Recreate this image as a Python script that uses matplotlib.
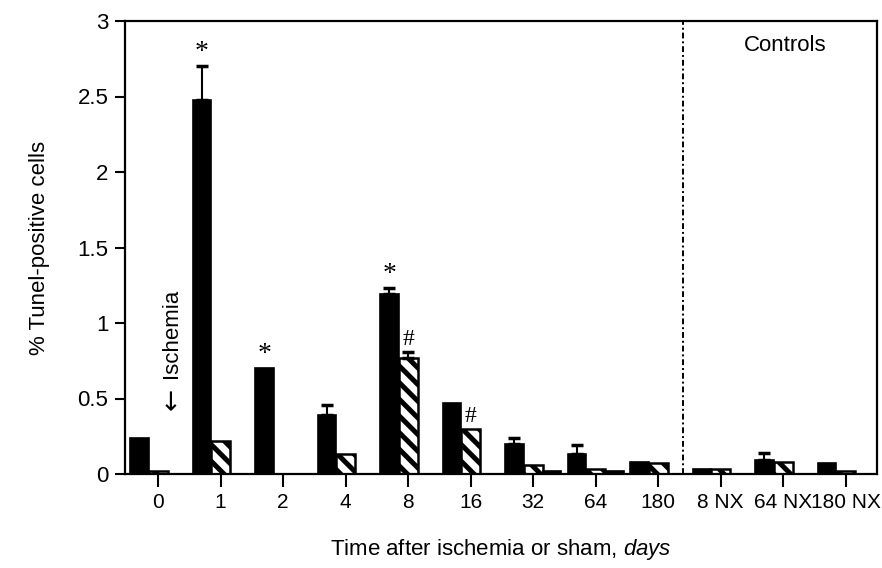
import matplotlib
matplotlib.use("Agg")
import matplotlib.pyplot as plt
import numpy as np

plt.rcParams['font.family'] = ['Liberation Sans', 'DejaVu Sans']
plt.rcParams['mathtext.fontset'] = 'custom'
plt.rcParams['mathtext.it'] = 'Liberation Sans:italic'
plt.rcParams['mathtext.rm'] = 'Liberation Sans'
plt.rcParams['hatch.linewidth'] = 3.6

# groups along the x axis
groups = ['0', '1', '2', '4', '8', '16', '32', '64', '180', '8 NX', '64 NX', '180 NX']

# black bars (ischemic side) and upper error
black_vals = [0.24, 2.48, 0.70, 0.39, 1.19, 0.47, 0.20, 0.13, 0.08, 0.03, 0.09, 0.07]
black_err = [0, 0.22, 0, 0.07, 0.04, 0, 0.04, 0.06, 0, 0, 0.05, 0]

# hatched bars and upper error
hatch_vals = [0.02, 0.22, 0.0, 0.13, 0.77, 0.30, 0.06, 0.03, 0.07, 0.03, 0.08, 0.02]
hatch_err = [0, 0, 0, 0, 0.04, 0, 0, 0, 0, 0, 0, 0]

# small third bars seen in some groups
third_vals = [0, 0, 0, 0, 0, 0, 0.02, 0.02, 0, 0, 0, 0]

# significance marks: (group index, series, symbol)
marks = [(1, 'black', '*'), (2, 'black', '*'), (4, 'black', '*'),
         (4, 'hatch', '#'), (5, 'hatch', '#')]

fig = plt.figure(figsize=(8.82, 5.68), dpi=100)
ax = fig.add_axes([125 / 882, 1 - 474 / 568, (877 - 125) / 882, (474 - 21) / 568])

x = np.arange(len(groups))
w = 0.3

ax.bar(x - w, black_vals, w, color='black', edgecolor='black', linewidth=1.2, zorder=2)
ax.bar(x, hatch_vals, w, color='white', edgecolor='black', hatch='\\\\', linewidth=1.8, zorder=2)
ax.bar(x + w, third_vals, w, color='black', edgecolor='black', linewidth=1.2, zorder=2)

for xi, v, e in zip(x - w, black_vals, black_err):
    if e > 0:
        ax.errorbar(xi, v, yerr=[[0], [e]], fmt='none', ecolor='black',
                    elinewidth=1.5, capsize=4.5, capthick=2.5, zorder=3)
for xi, v, e in zip(x, hatch_vals, hatch_err):
    if e > 0:
        ax.errorbar(xi, v, yerr=[[0], [e]], fmt='none', ecolor='black',
                    elinewidth=1.5, capsize=4.5, capthick=2.5, zorder=3)

for gi, series, sym in marks:
    if series == 'black':
        xi, top = gi - w, black_vals[gi] + black_err[gi]
    else:
        xi, top = gi, hatch_vals[gi] + hatch_err[gi]
    size = 20 if sym == '*' else 17
    ax.annotate(sym, (xi, top), xytext=(0, 1), textcoords='offset points',
                ha='center', va='bottom', fontsize=size, family='Liberation Serif')

ax.axvline(8.4, color='black', linestyle=(0, (3, 1.5, 1, 1.5)), linewidth=1.4)

ax.text(0.22, 0.93, 'Ischemia', rotation=90, ha='center', va='center', fontsize=16)
ax.text(0.22, 0.5, '\u2190', rotation=90, ha='center', va='center', fontsize=19,
        family='DejaVu Sans')
ax.text(10.03, 2.84, 'Controls', ha='center', va='center', fontsize=16)

ax.set_xlim(-0.53, 11.5)
ax.set_ylim(0, 3)
ax.set_xticks(x)
ax.set_xticklabels(groups)
ax.set_yticks([0, 0.5, 1, 1.5, 2, 2.5, 3])
ax.set_yticklabels(['0', '0.5', '1', '1.5', '2', '2.5', '3'])
ax.tick_params(axis='x', direction='out', length=9, width=1.5, labelsize=15, pad=5)
ax.tick_params(axis='y', direction='out', length=7, width=1.5, labelsize=16, pad=5)
for s in ax.spines.values():
    s.set_linewidth(1.6)

ax.set_ylabel('% Tunel-positive cells', fontsize=16, labelpad=20)
ax.set_xlabel('Time after ischemia or sham, $\\it{days}$', fontsize=16, labelpad=18)

fig.savefig('out.png', dpi=100)
